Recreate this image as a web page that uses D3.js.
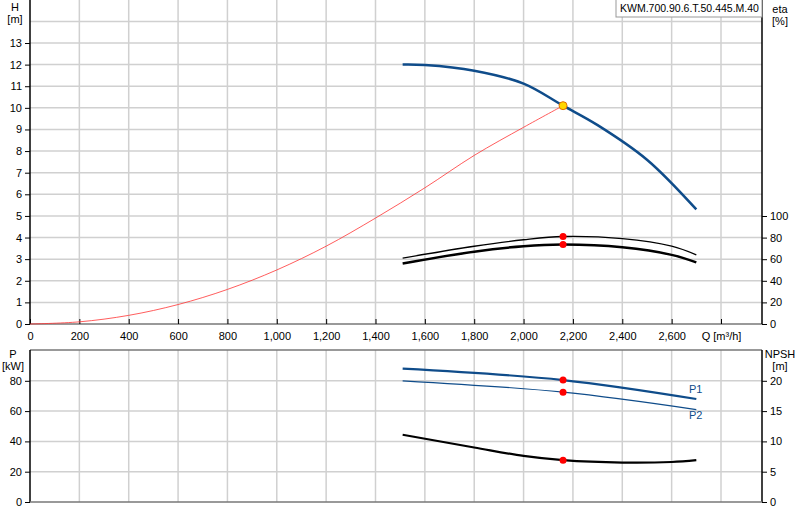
<!DOCTYPE html><html><head><meta charset="utf-8"><script src="https://cdn.jsdelivr.net/npm/d3@7"></script>
<style>body{margin:0;background:#fff}text{font-family:Arial,"Liberation Sans",sans-serif;font-size:11px;fill:#000}</style></head><body>
<svg id="c" width="800" height="520"></svg>
<script>
const qTicks=[0,200,400,600,800,1000,1200,1400,1600,1800,2000,2200,2400,2600];
const hTicks=[0,1,2,3,4,5,6,7,8,9,10,11,12,13];
const etaTicks=[0,20,40,60,80,100];
const pTicks=[0,20,40,60,80];
const npshTicks=[0,5,10,15,20];
const headQ=[1510,1600,1800,2000,2160,2300,2500,2700];
const headH=[12.0,11.98,11.72,11.12,10.1,9.2,7.6,5.3];
const sysQ=[0,200,400,600,800,1000,1200,1400,1600,1800,2000,2160];
const sysH=[0,0.1,0.4,0.9,1.6,2.5,3.6,4.9,6.3,7.8,9.1,10.1];
const etaQ=[1510,1800,2000,2160,2400,2600,2700];
const eta1=[61,72,78,81,79,72,64];
const eta2=[56,67,72,73.5,71,64,57];
const pQ=[1510,2160,2700];
const p1=[88,80.5,68];
const p2=[80,72.5,61];
const npQ=[1510,1800,2000,2160,2400,2600,2700];
const npsh=[11.1,9.0,7.6,6.9,6.5,6.6,6.9];
const opQ=2160;

const svg=d3.select("#c");
const L=30,R=762;
const x=d3.scaleLinear().domain([0,2800]).range([30,721]);
const yH=d3.scaleLinear().domain([0,13]).range([324,43]);
const yE=d3.scaleLinear().domain([0,100]).range([324,216]);
const yP=d3.scaleLinear().domain([0,100]).range([502,350.5]);
const yN=d3.scaleLinear().domain([0,25]).range([502,350.5]);
const grid="#d0d0d0";
function vgrid(t,b){qTicks.concat([2800]).forEach(q=>{if(q>0)svg.append("line").attr("x1",x(q)).attr("x2",x(q)).attr("y1",t).attr("y2",b).attr("stroke",grid).attr("stroke-width",1.5);});}
vgrid(0,324);vgrid(350,502);
[...hTicks,14].forEach(h=>{if(h>0)svg.append("line").attr("x1",L).attr("x2",R).attr("y1",yH(h)).attr("y2",yH(h)).attr("stroke",grid).attr("stroke-width",1.5);});
[20,40,60,80].forEach(v=>svg.append("line").attr("x1",L).attr("x2",R).attr("y1",yP(v)).attr("y2",yP(v)).attr("stroke",grid).attr("stroke-width",1.5));
svg.append("line").attr("x1",L).attr("x2",R).attr("y1",350).attr("y2",350).attr("stroke","#777").attr("stroke-width",1.5);
const ax=(tr,a)=>{const s=svg.append("g").attr("transform",tr).call(a);s.select(".domain").attr("stroke","#000").attr("stroke-width",1.5);s.selectAll("text").style("font-size","11px");return s;};
ax(`translate(${L},0)`,d3.axisLeft(yH).tickValues(hTicks).tickSize(5).tickSizeOuter(0)).select(".domain").attr("d",`M0,324V0`);
const xa=ax(`translate(0,324)`,d3.axisBottom(x).tickValues(qTicks.concat([2800])).tickSize(5).tickSizeOuter(0).tickFormat(d=>d===2800?"Q [m³/h]":d3.format(",")(d)));
xa.select(".domain").attr("stroke","#777").attr("d",`M${L},0H${R}`);
xa.selectAll(".tick line").attr("y1",-5).attr("y2",0).attr("stroke","#000");
ax(`translate(${R},0)`,d3.axisRight(yE).tickValues(etaTicks).tickSize(5).tickSizeOuter(0)).select(".domain").attr("d",`M0,0V324`);
ax(`translate(${L},0)`,d3.axisLeft(yP).tickValues(pTicks).tickSize(5).tickSizeOuter(0)).select(".domain").attr("d",`M0,350V502`);
ax(`translate(${R},0)`,d3.axisRight(yN).tickValues(npshTicks).tickSize(5).tickSizeOuter(0)).select(".domain").attr("d",`M0,350V502`);
const bx=svg.append("g").attr("transform","translate(0,502)").call(d3.axisBottom(x).tickValues(qTicks.concat([2800])).tickSize(0).tickFormat(""));
bx.select(".domain").attr("stroke","#777").attr("stroke-width",1.5).attr("d",`M${L},0H${R}`);
const lab=(t,xx,yy)=>svg.append("text").attr("x",xx).attr("y",yy).attr("text-anchor","middle").text(t);
lab("H",15,11);lab("[m]",15,23);lab("eta",780,13);lab("[%]",780,25);
lab("P",13,358);lab("[kW]",13,370);lab("NPSH",780,358);lab("[m]",780,370);
svg.append("rect").attr("x",616).attr("y",-1).attr("width",146).attr("height",18).attr("fill","#fff").attr("stroke","#999");
svg.append("text").attr("x",620).attr("y",12).style("font-size","10.5px").text("KWM.700.90.6.T.50.445.M.40");
const ln=(xs,ys,yS,c,w)=>svg.append("path").datum(xs.map((q,i)=>[q,ys[i]])).attr("d",d3.line().x(d=>x(d[0])).y(d=>yS(d[1])).curve(d3.curveCatmullRom)).attr("fill","none").attr("stroke",c).attr("stroke-width",w);
ln(sysQ,sysH,yH,"#f33",0.8);
ln(headQ,headH,yH,"#0f4c8a",2.5);
ln(etaQ,eta1,yE,"#000",1.3);
ln(etaQ,eta2,yE,"#000",2.5);
ln(pQ,p1,yP,"#0f4c8a",2.2);
ln(pQ,p2,yP,"#0f4c8a",1.2);
ln(npQ,npsh,yN,"#000",2.2);
const dot=(yy,f,r)=>svg.append("circle").attr("cx",x(opQ)).attr("cy",yy).attr("r",r).attr("fill",f).attr("stroke",f==="#ffd700"?"#e07000":"none");
dot(yH(10.1),"#ffd700",4);
dot(yE(81),"red",3.5);dot(yE(73.5),"red",3.5);
dot(yP(80.5),"red",3.5);dot(yP(72.5),"red",3.5);dot(yN(6.9),"red",3.5);
svg.append("text").attr("x",689).attr("y",393).style("fill","#0f4c8a").text("P1");
svg.append("text").attr("x",689).attr("y",419).style("fill","#0f4c8a").text("P2");
</script></body></html>
